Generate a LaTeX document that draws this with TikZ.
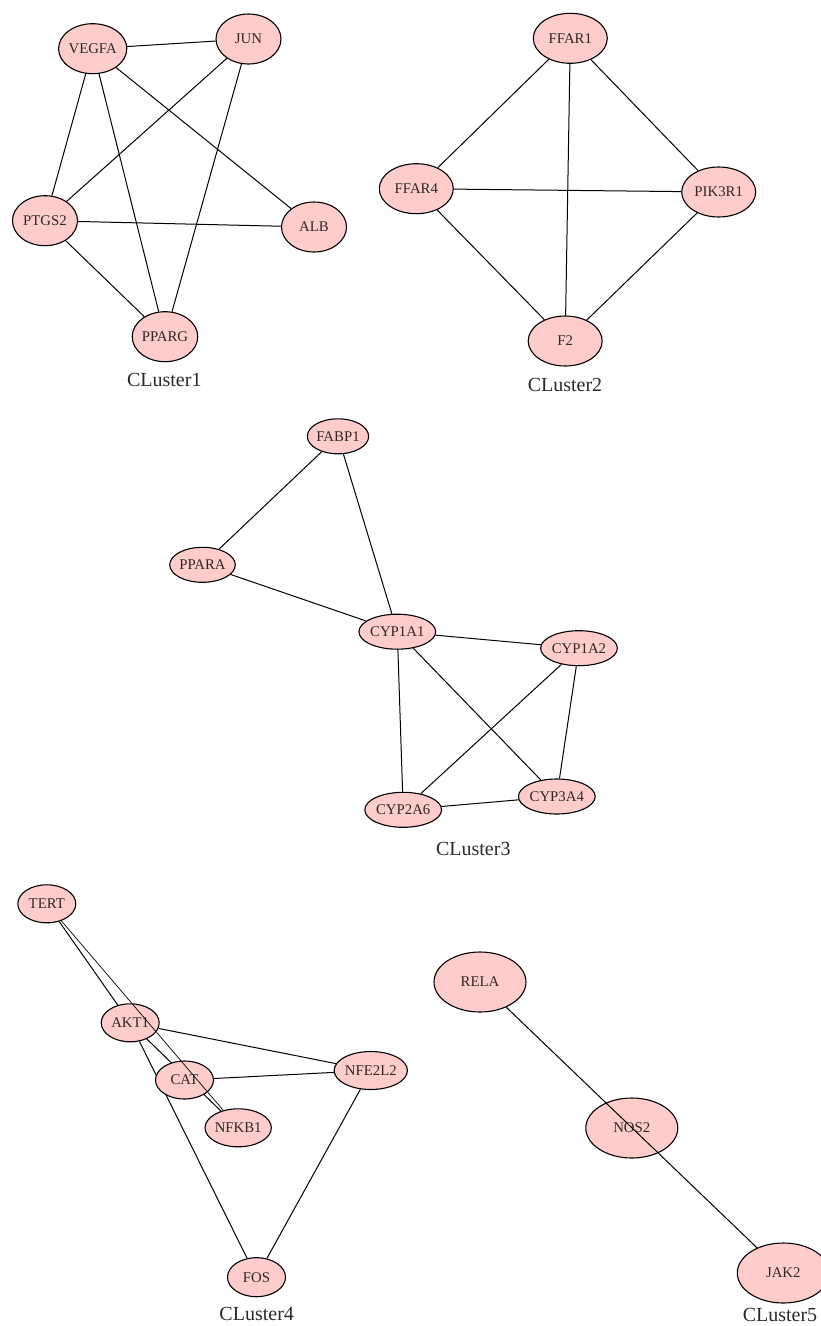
\documentclass[tikz,border=0pt]{standalone}
\usepackage{fontspec}
\setmainfont{Liberation Serif}
\usetikzlibrary{shapes.geometric}
\pgfdeclarelayer{background}
\pgfsetlayers{background,main}
\definecolor{nodefill}{RGB}{255,204,204}
\definecolor{txt}{RGB}{45,40,40}
\tikzset{
  gene/.style={ellipse, draw=black, line width=1.1pt, fill=nodefill, inner sep=0pt,
    text=txt, font=\fontsize{14.8}{17}\selectfont},
  big/.style={gene, minimum width=65pt, minimum height=50pt},
  wide/.style={gene, minimum width=74pt, minimum height=50pt},
  small/.style={gene, minimum width=59pt, minimum height=35pt},
  mid/.style={gene, minimum width=58pt, minimum height=38pt},
  huge/.style={gene, minimum width=92pt, minimum height=60pt},
  clabel/.style={text=txt, font=\fontsize{20}{24}\selectfont, inner sep=0pt},
  edge/.style={draw=black, line width=1pt},
}
\begin{document}
\begin{tikzpicture}[x=1pt,y=-1pt]
\useasboundingbox (0,0) rectangle (821,1326);
\clip (0,0) rectangle (821,1326);
% Cluster 1
\node[big] (vegfa) at (92.7,48.7) {VEGFA};
\node[big] (jun)   at (248.5,39) {JUN};
\node[big] (ptgs2) at (45,220.7) {PTGS2};
\node[big] (alb)   at (314,227) {ALB};
\node[big] (pparg) at (165,336.7) {PPARG};
\node[clabel] (c1) at (164.3,380) {CLuster1};
% Cluster 2
\node[wide] (ffar1)  at (570.3,38.3) {FFAR1};
\node[wide] (ffar4)  at (416.3,188.7) {FFAR4};
\node[wide] (pik3r1) at (718.7,192) {PIK3R1};
\node[wide] (f2)     at (565.2,341) {F2};
\node[clabel] (c2) at (565,385) {CLuster2};
% Cluster 3
\node[small] (fabp1)  at (338,436.3) {FABP1};
\node[small] (ppara)  at (202.5,564.8) {PPARA};
\node[small, minimum width=60pt] (cyp1a1) at (397.3,631.7) {CYP1A1};
\node[small, minimum width=60pt] (cyp1a2) at (579,648.2) {CYP1A2};
\node[small, minimum width=62pt] (cyp2a6) at (403.2,809.8) {CYP2A6};
\node[small, minimum width=62pt] (cyp3a4) at (556.8,796.5) {CYP3A4};
\node[clabel] (c3) at (473.3,848.5) {CLuster3};
% Cluster 4
\node[mid] (tert)   at (46.8,903.8) {TERT};
\node[mid] (akt1)   at (130.2,1022.8) {AKT1};
\node[mid] (cat)    at (184.5,1080) {CAT};
\node[mid] (nfkb1)  at (238.2,1127.8) {NFKB1};
\node[mid, minimum width=58pt] (nfe2l2) at (370.8,1070.5) {NFE2L2};
\node[mid, minimum height=39pt] (fos) at (256.5,1277.2) {FOS};
\node[clabel] (c4) at (256.7,1314) {CLuster4};
% Cluster 5
\node[huge] (rela) at (480,982) {RELA};
\node[huge] (nos2) at (631.8,1128) {NOS2};
\node[huge] (jak2) at (783.3,1273) {JAK2};
\node[clabel] (c5) at (780,1314.5) {CLuster5};

\begin{pgfonlayer}{background}
% Cluster 1 edges
\draw[edge] (vegfa) -- (jun);
\draw[edge] (vegfa) -- (ptgs2);
\draw[edge] (vegfa) -- (pparg);
\draw[edge] (vegfa) -- (alb);
\draw[edge] (jun) -- (ptgs2);
\draw[edge] (jun) -- (pparg);
\draw[edge] (ptgs2) -- (alb);
\draw[edge] (ptgs2) -- (pparg);
% Cluster 2 edges
\draw[edge] (ffar1) -- (ffar4);
\draw[edge] (ffar1) -- (f2);
\draw[edge] (ffar1) -- (pik3r1);
\draw[edge] (ffar4) -- (pik3r1);
\draw[edge] (ffar4) -- (f2);
\draw[edge] (pik3r1) -- (f2);
% Cluster 3 edges
\draw[edge] (fabp1) -- (ppara);
\draw[edge] (fabp1) -- (cyp1a1);
\draw[edge] (ppara) -- (cyp1a1);
\draw[edge] (cyp1a1) -- (cyp1a2);
\draw[edge] (cyp1a1) -- (cyp2a6);
\draw[edge] (cyp1a1) -- (cyp3a4);
\draw[edge] (cyp1a2) -- (cyp2a6);
\draw[edge] (cyp1a2) -- (cyp3a4);
\draw[edge] (cyp2a6) -- (cyp3a4);
% Cluster 4 edges
\draw[edge] (tert) -- (akt1);
\draw[edge] (akt1) -- (nfkb1);
\draw[edge] (akt1) -- (nfe2l2);
\draw[edge] (akt1) -- (fos);
\draw[edge] (cat) -- (nfe2l2);
\draw[edge] (nfe2l2) -- (fos);
\end{pgfonlayer}
% edges drawn over nodes
\draw[edge, line width=0.7pt] (tert) -- (nfkb1);
\draw[edge] (rela) -- (jak2);
\end{tikzpicture}
\end{document}
